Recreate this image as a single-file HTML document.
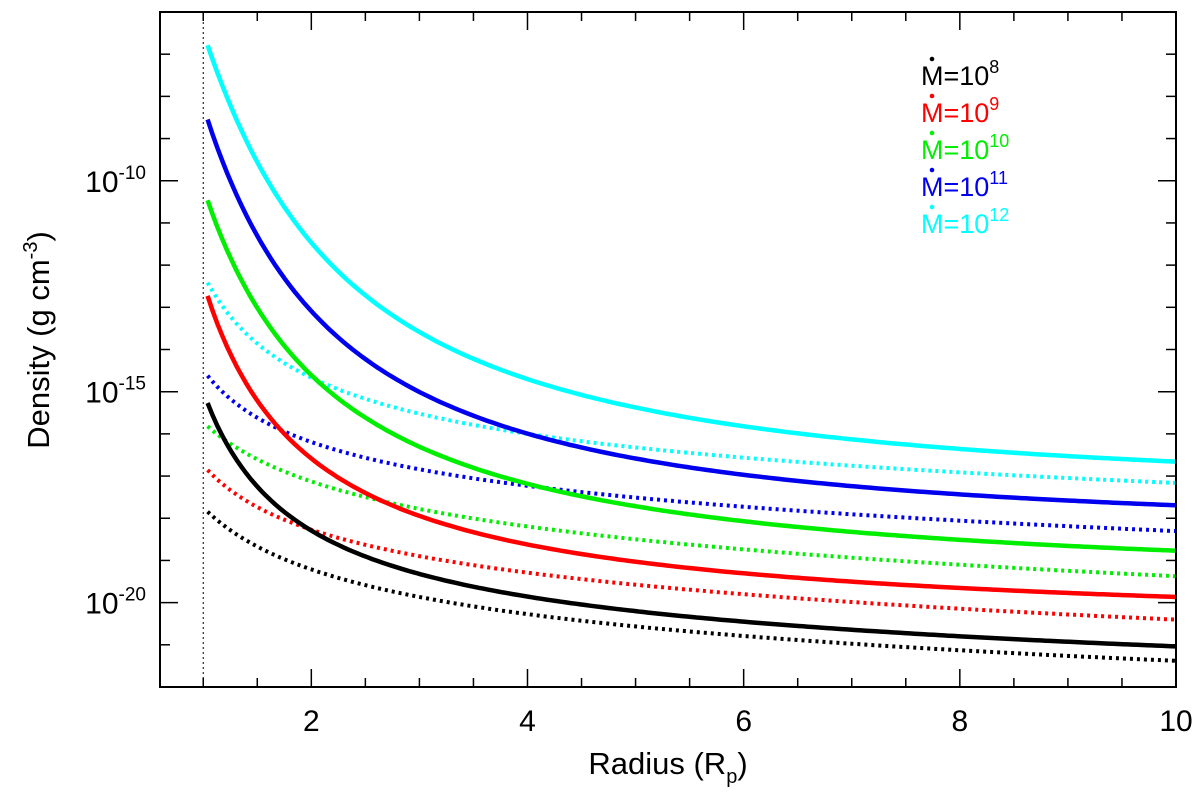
<!DOCTYPE html>
<html><head><meta charset="utf-8"><style>
body{margin:0;background:#fff;}
svg{display:block;font-family:"Liberation Sans",sans-serif;}
</style></head><body>
<svg id="chart" width="1200" height="798" viewBox="0 0 1200 798" xmlns="http://www.w3.org/2000/svg">
<g id="g"></g>
</svg>
<script>
const xs = [1.04, 1.2, 1.5, 2, 3, 4, 5.22, 6, 8, 10];
const seriesNames = ["1e8","1e9","1e10","1e11","1e12"];
const colors = ["#000000","#ff0000","#00ee00","#0000ee","#00ffff"];
const solidBlack = [-15.27,-16.2,-17.09,-18.44,-19.34,-19.79,-20.24,-20.47,-20.8,-21.04];
const solidRed   = [-12.74,-13.8,-14.99,-16.79,-18.04,-18.59,-18.99,-19.27,-19.62,-19.88];
const solidGreen = [-10.47,-11.5,-12.89,-14.79,-16.29,-17.09,-17.79,-18.13,-18.5,-18.77];
const solidBlue  = [-8.56,-9.6,-11.19,-13.29,-14.99,-15.94,-16.67,-16.97,-17.4,-17.7];
const solidCyan  = [-6.79,-7.9,-9.49,-11.59,-13.49,-14.69,-15.57,-15.8,-16.33,-16.66];
const dotBlack = [-17.84,-18.25,-18.64,-19.24,-19.84,-20.19,-20.64,-20.88,-21.16,-21.37];
const dotRed   = [-16.85,-17.3,-17.69,-18.29,-18.89,-19.24,-19.67,-19.83,-20.14,-20.4];
const dotGreen = [-15.81,-16.25,-16.59,-17.14,-17.69,-18.09,-18.69,-18.82,-19.12,-19.36];
const dotBlue  = [-14.61,-15.2,-15.54,-16.19,-16.84,-17.19,-17.61,-17.75,-18.06,-18.3];
const dotCyan  = [-12.41,-13.1,-13.79,-14.74,-15.49,-15.94,-16.41,-16.62,-16.9,-17.16];
const xTicks = [2,4,6,8,10];
const yTicks = [-10,-15,-20];
const legendExp = ["8","9","10","11","12"];

const L=160,R=1176,T=12,B=687;
const X0=0.6,X1=10,Y0=-22,Y1=-6;
const sx=x=>L+(x-X0)/(X1-X0)*(R-L);
const sy=v=>B-(v-Y0)/(Y1-Y0)*(B-T);
const g=document.getElementById('g');
const NS='http://www.w3.org/2000/svg';
function mk(t,a){const e=document.createElementNS(NS,t);for(const k in a)e.setAttribute(k,a[k]);g.appendChild(e);return e;}

// smooth least-squares fit with basis 1, 1/x, 1/x^2, ln x
const basis=x=>[1,1/x,1/(x*x),Math.log(x)];
function fit(ys){
  const k=4,M=[...Array(k)].map(()=>Array(k+1).fill(0));
  xs.forEach((x,i)=>{const b=basis(x);const w=(i===0||i===xs.length-1)?6:1;
    for(let r=0;r<k;r++){for(let c=0;c<k;c++)M[r][c]+=w*b[r]*b[c];M[r][k]+=w*b[r]*ys[i];}});
  for(let c=0;c<k;c++){let p=c;for(let r=c+1;r<k;r++)if(Math.abs(M[r][c])>Math.abs(M[p][c]))p=r;
    [M[c],M[p]]=[M[p],M[c]];
    for(let r=0;r<k;r++){if(r===c)continue;const f=M[r][c]/M[c][c];for(let j=c;j<=k;j++)M[r][j]-=f*M[c][j];}}
  return M.map((row,i)=>row[k]/row[i]);
}
function path(ys){
  const co=fit(ys);const pts=[];
  const a=xs[0],b=xs[xs.length-1];
  for(let s=0;s<=200;s++){const x=a+(b-a)*s/200;const bb=basis(x);
    const y=bb.reduce((acc,v,i)=>acc+v*co[i],0);pts.push([sx(x),sy(y)]);}
  return pts.map((p,i)=>(i?'L':'M')+p[0].toFixed(1)+','+p[1].toFixed(1)).join('');
}

const vl=mk('line',{x1:sx(1),x2:sx(1),y1:T,y2:B,stroke:'#000','stroke-width':1,'stroke-dasharray':'2,3'});



const dotted=[dotBlack,dotRed,dotGreen,dotBlue,dotCyan];
const solid=[solidBlack,solidRed,solidGreen,solidBlue,solidCyan];
dotted.forEach((s,i)=>{
  const p=mk('path',{d:path(s),fill:'none',stroke:colors[i],'stroke-width':4,'stroke-dasharray':'3,4'});
  
  
});
solid.forEach((s,i)=>{
  const p=mk('path',{d:path(s),fill:'none',stroke:colors[i],'stroke-width':4.5});
  
  
});

const fr=mk('rect',{x:L,y:T,width:R-L,height:B-T,fill:'none',stroke:'#000','stroke-width':2});



for(let v=1;v<=10.001;v+=0.5){
  const major=Math.abs(v-Math.round(v/2)*2)<1e-6;
  const len=major?18:9;
  mk('line',{x1:sx(v),x2:sx(v),y1:B,y2:B-len,stroke:'#000','stroke-width':1.5});
  mk('line',{x1:sx(v),x2:sx(v),y1:T,y2:T+len,stroke:'#000','stroke-width':1.5});
}
xTicks.forEach(v=>{
  const t=mk('text',{x:sx(v),y:731,'font-size':30,'text-anchor':'middle'});
  t.textContent=v;
  
  
});
for(let v=-21;v<=-7;v++){
  const major=yTicks.includes(v);
  const len=major?18:10;
  mk('line',{x1:L,x2:L+len,y1:sy(v),y2:sy(v),stroke:'#000','stroke-width':1.5});
  mk('line',{x1:R,x2:R-len,y1:sy(v),y2:sy(v),stroke:'#000','stroke-width':1.5});
}
yTicks.forEach(v=>{
  const t=mk('text',{x:146,y:sy(v)+11,'font-size':30,'text-anchor':'end'});
  t.innerHTML='10<tspan dy="-13" font-size="19">'+v+'</tspan>';
  
  
});
const xt=mk('text',{x:668,y:774,'font-size':31,'text-anchor':'middle'});
xt.innerHTML='Radius (R<tspan dy="9" font-size="20">p</tspan><tspan dy="-9">)</tspan>';


const yt=mk('text',{x:0,y:0,'font-size':31,'text-anchor':'middle',transform:'translate(49,340) rotate(-90)'});
yt.innerHTML='Density (g cm<tspan dy="-12" font-size="20">-3</tspan><tspan dy="12">)</tspan>';


legendExp.forEach((e,i)=>{
  const y=85+i*37;
  const t=mk('text',{x:921,y:y,'font-size':27,fill:colors[i]});
  t.innerHTML='M=10<tspan dy="-12" font-size="18">'+e+'</tspan>';
  
  
  mk('circle',{cx:932,cy:y-26,r:2.3,fill:colors[i]});
});
</script>
</body></html>
